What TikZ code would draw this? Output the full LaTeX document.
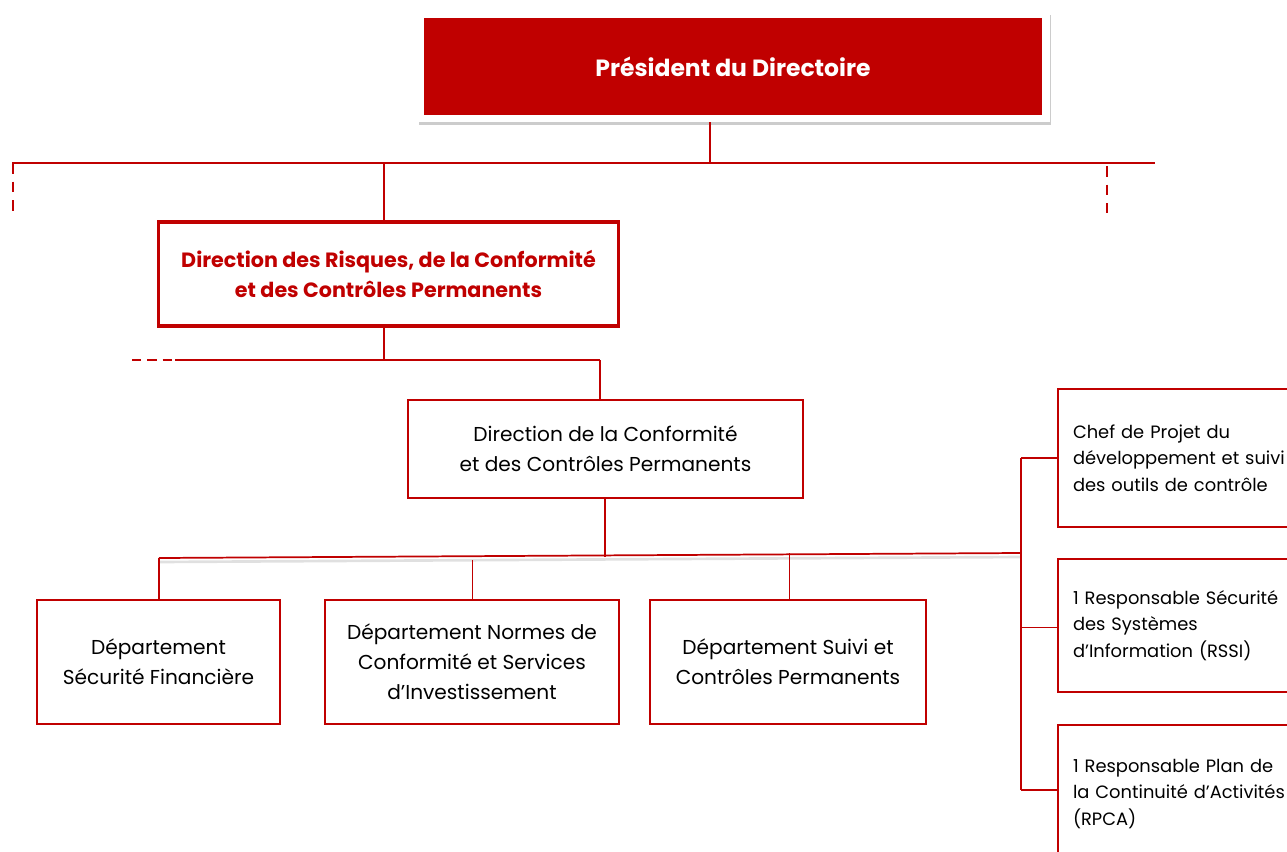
\documentclass[tikz,border=0pt]{standalone}
\usepackage{fontspec}
\setmainfont{Poppins}
\usetikzlibrary{shadows}
\definecolor{rd}{RGB}{192,0,0}
\begin{document}
\begin{tikzpicture}[x=0.75pt,y=-0.75pt,
  conn/.style={draw=rd,line width=1.3pt},
  thinconn/.style={draw=rd,line width=0.8pt},
  dashconn/.style={draw=rd,line width=2pt,dash pattern=on 8pt off 6pt},
  unitbox/.style={draw=rd,line width=1.4pt,fill=white,align=center,inner sep=0pt,
    font=\fontsize{15.1pt}{22.5pt}\selectfont},
  sidebox/.style={draw=rd,line width=1.4pt,fill=white,align=left,inner xsep=11.25pt,inner ysep=0pt,
    text width=159pt,minimum height=103.5pt,font=\fontsize{13.4pt}{20pt}\selectfont}]
\useasboundingbox (0,0) rectangle (1287,852);

% top box
\node[fill=white,minimum width=474pt,minimum height=82.5pt,inner sep=0pt,
  drop shadow={shadow xshift=1pt,shadow yshift=-2.5pt,fill=black!40}] (topframe) at (734,67) {};
\node[fill=rd,minimum width=463.5pt,minimum height=72.75pt,inner sep=0pt,text=white,
  font=\fontsize{17.6pt}{20pt}\selectfont\bfseries] (top) at (733,66.5) {Président du Directoire};

\coordinate (h1) at (710,163);
\coordinate (hl) at (12,163);
\coordinate (hr) at (1155,163);
\coordinate (hld) at (13,213);
\coordinate (hrt) at (1107,166);
\coordinate (hrd) at (1107,213);
\coordinate (h2) at (384,163);

\draw[conn] (topframe.south -| h1) -- (h1);
\draw[conn] (hl) -- (hr);
\draw[dashconn] (13,163) -- (hld);
\draw[dashconn] (hrt) -- (hrd);

% box 2
\node[draw=rd,line width=2.4pt,minimum width=345pt,minimum height=78pt,inner sep=0pt,align=center,
  text=rd,font=\fontsize{15.5pt}{22.5pt}\selectfont\bfseries] (risk) at (388.5,274)
  {Direction des Risques, de la Conformité\\et des Contrôles Permanents};
\draw[conn] (h2) -- (h2 |- risk.north);

\coordinate (m1) at (384,360);
\coordinate (ml) at (175,360);
\coordinate (mr) at (600,360);
\coordinate (mld) at (132,360);
\coordinate (mle) at (172,360);
\draw[conn] (m1 |- risk.south) -- (m1);
\draw[conn] (ml) -- (mr);
\draw[draw=rd,line width=1.3pt,dash pattern=on 7pt off 4.5pt] (mld) -- (mle);

% box 3
\node[unitbox,minimum width=296.25pt,minimum height=73.5pt] (dir) at (605.5,449)
  {Direction de la Conformité\\et des Contrôles Permanents};
\draw[conn] (mr) -- (mr |- dir.north);

% lower bus
\coordinate (b0) at (605,557);
\coordinate (bl) at (159,558);
\coordinate (br) at (1021,553);
\coordinate (b2) at (472,560);
\coordinate (b3) at (789,553);
\draw[thinconn] (b0 |- dir.south) -- (b0);
\draw[draw=black!12,line width=2pt] (159,562) -- (1021,557);
\draw[conn] (bl) -- (br);

% bottom boxes
\node[unitbox,minimum width=182.25pt,minimum height=93pt] (fin) at (158.5,662)
  {Département\\Sécurité Financière};
\node[unitbox,minimum width=220.5pt,minimum height=93pt] (norm) at (472,662)
  {Département Normes de\\Conformité et Services\\d’Investissement};
\node[unitbox,minimum width=207pt,minimum height=93pt] (suivi) at (788,662)
  {Département Suivi et\\Contrôles Permanents};
\draw[thinconn] (bl) -- (bl |- fin.north);
\draw[draw=rd,line width=0.6pt] (b2) -- (b2 |- norm.north);
\draw[draw=rd,line width=0.6pt] (b3) -- (b3 |- suivi.north);

% right column
\node[sidebox] (chef) at (1179,458)
  {Chef de Projet du\\développement et suivi\\des outils de contrôle};
\node[sidebox,minimum height=99.75pt] (rssi) at (1179,625.5)
  {1 Responsable Sécurité\\des Systèmes\\d’Information (RSSI)};
\node[sidebox] (rpca) at (1179,794)
  {1 Responsable Plan de\\la Continuité d’Activités\\(RPCA)};
\coordinate (rt) at (1021,458);
\coordinate (rm) at (1021,627);
\coordinate (rb) at (1021,790);
\draw[conn] (rt) -- (rb);
\draw[conn] (rt) -- (chef.west |- rt);
\draw[draw=rd,line width=0.7pt] (rm) -- (rssi.west |- rm);
\draw[conn] (rb) -- (rpca.west |- rb);
\end{tikzpicture}
\end{document}
